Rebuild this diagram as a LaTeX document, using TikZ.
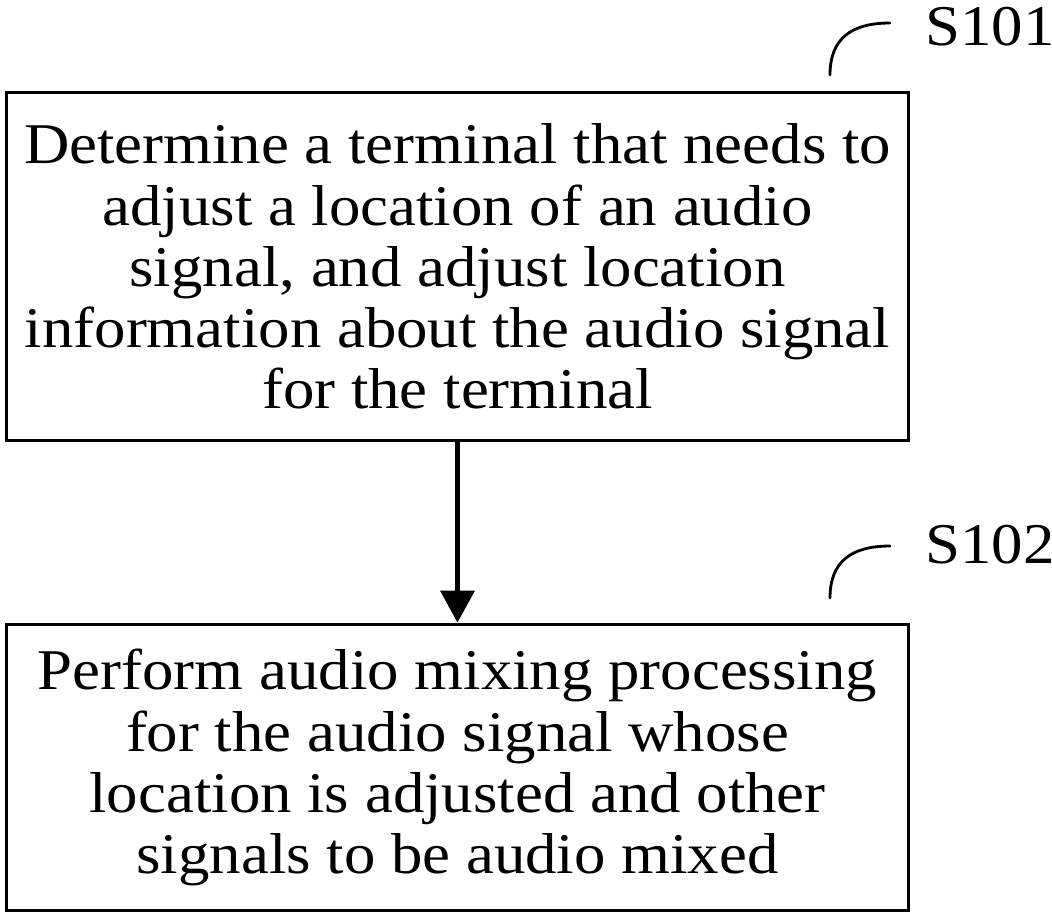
\documentclass[tikz,border=0pt]{standalone}
\usepackage{fontspec}
\setmainfont{Liberation Serif}[FakeStretch=1.09]
\usetikzlibrary{arrows.meta, positioning}
\definecolor{ink}{HTML}{000000}
\tikzset{
  stepbox/.style={draw=ink, line width=1.7pt, minimum width=18.06cm, align=center,
    inner sep=0pt, font=\fontsize{32.8}{34.8}\selectfont},
  steptag/.style={anchor=base west, inner sep=0pt, font=\fontsize{32.8}{34.8}\selectfont},
  tagline/.style={ink, line width=1.6pt, line cap=round},
  flow/.style={ink, line width=2.3pt, -{Triangle[width=0.68cm, length=0.64cm]}}
}
\begin{document}
\begin{tikzpicture}[x=0.02cm, y=-0.02cm]
  \useasboundingbox (0,0) rectangle (1052,917);
  % the two steps
  \node[stepbox, minimum height=6.98cm] (s1) at (457.5,266.5)
    {Determine a terminal that needs to\\adjust a location of an audio\\signal, and adjust location\\information about the audio signal\\for the terminal};
  \node[stepbox, minimum height=5.74cm] (s2) at (457.5,767.5)
    {Perform audio mixing processing\\for the audio signal whose\\location is adjusted and other\\signals to be audio mixed};
  \draw[flow] (s1.south) -- (s2.north);
  % step tags
  \coordinate (c1) at (830,75);
  \coordinate (c2) at (830,598);
  \draw[tagline] (c1) .. controls (830,38) and (852,23) .. (890,23);
  \draw[tagline] (c2) .. controls (830,561) and (852,546) .. (890,546);
  \node[steptag] (t1) at (925,45) {S101};
  \node[steptag] (t2) at (925,563) {S102};
\end{tikzpicture}
\end{document}
